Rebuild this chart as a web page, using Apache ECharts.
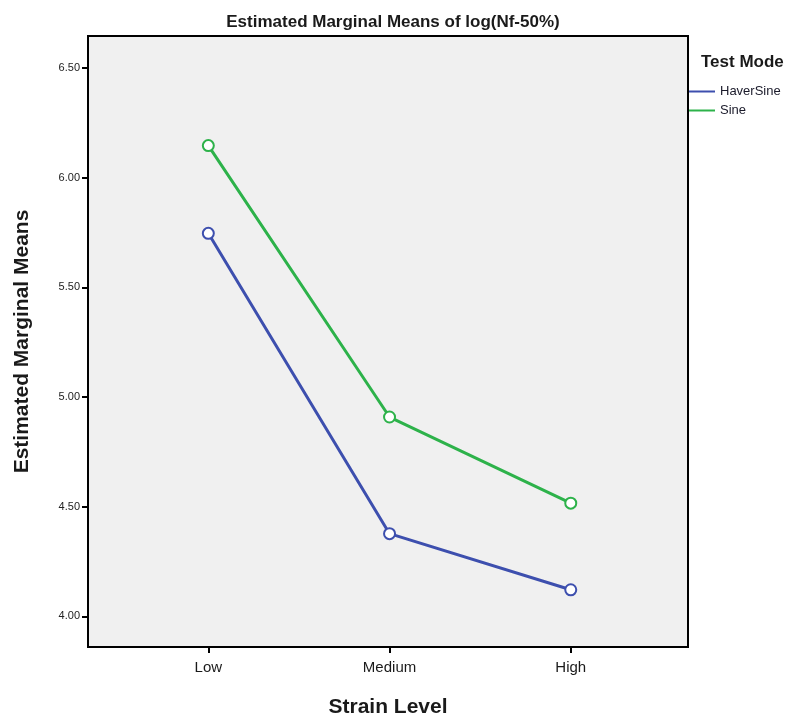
<!DOCTYPE html>
<html>
<head>
<meta charset="utf-8">
<script src="https://cdn.jsdelivr.net/npm/echarts@6/dist/echarts.min.js"></script>
<style>
  html, body { margin: 0; padding: 0; background: #fff; }
  #chart { width: 805px; height: 717px; }
</style>
</head>
<body>
<div id="chart"></div>
<script>
// Strain level categories along the x axis
const strainLevels = ['Low', 'Medium', 'High'];
// Estimated marginal means of log(Nf-50%) for each test mode
const haverSineMeans = [5.747, 4.377, 4.121];
const sineMeans = [6.147, 4.909, 4.516];
// Y axis tick values
const yTicks = [4.0, 4.5, 5.0, 5.5, 6.0, 6.5];
const xTicks = [0, 1, 2];

const chart = echarts.init(document.getElementById('chart'), null, { renderer: 'canvas' });

const font = '"Liberation Sans", Arial, sans-serif';

function toPoints(values) {
  return values.map((v, i) => [i, v]);
}

const option = {
  animation: false,
  backgroundColor: '#ffffff',
  title: [
    {
      text: 'Estimated Marginal Means of log(Nf-50%)',
      left: 388,
      top: 9,
      textAlign: 'center',
      textStyle: { fontFamily: font, fontSize: 17, fontWeight: 'bold', color: '#1a1a1a' }
    },
    {
      text: 'Test Mode',
      left: 696,
      top: 49,
      textStyle: { fontFamily: font, fontSize: 17, fontWeight: 'bold', color: '#1a1a1a' }
    }
  ],
  legend: {
    orient: 'vertical',
    left: 684,
    top: 80,
    itemWidth: 26,
    itemHeight: 2,
    itemGap: 6,
    icon: 'rect',
    itemStyle: { borderWidth: 0 },
    textStyle: { fontFamily: font, fontSize: 13, color: '#1a1a2a' },
    data: ['HaverSine', 'Sine']
  },
  grid: {
    left: 88,
    right: 117,
    top: 36,
    bottom: 70,
    outerBoundsMode: 'none',
    containLabel: false,
    show: true,
    backgroundColor: '#f0f0f0',
    borderColor: '#000',
    borderWidth: 2
  },
  xAxis: {
    type: 'value',
    min: -0.664,
    max: 2.647,
    name: 'Strain Level',
    nameLocation: 'middle',
    nameGap: 50,
    nameTextStyle: { fontFamily: font, fontSize: 21, fontWeight: 'bold', color: '#1a1a1a' },
    splitLine: { show: false },
    axisLine: { show: true, onZero: false, lineStyle: { color: '#000', width: 2 } },
    axisTick: { show: true, customValues: xTicks, length: 6, lineStyle: { color: '#000', width: 2 } },
    axisLabel: {
      customValues: xTicks,
      margin: 13,
      fontFamily: font,
      fontSize: 15,
      color: '#1a1a1a',
      formatter: v => strainLevels[Math.round(v)]
    }
  },
  yAxis: {
    type: 'value',
    min: 3.86,
    max: 6.647,
    name: 'Estimated Marginal Means',
    nameLocation: 'middle',
    nameGap: 55,
    nameTextStyle: { fontFamily: font, fontSize: 21, fontWeight: 'bold', color: '#1a1a1a' },
    splitLine: { show: false },
    axisLine: { show: true, onZero: false, lineStyle: { color: '#000', width: 2 } },
    axisTick: { show: true, customValues: yTicks, length: 6, lineStyle: { color: '#000', width: 2 } },
    axisLabel: {
      customValues: yTicks,
      margin: 8,
      fontFamily: font,
      fontSize: 11,
      color: '#222',
      formatter: v => v.toFixed(2)
    }
  },
  series: [
    {
      name: 'HaverSine',
      type: 'line',
      data: toPoints(haverSineMeans),
      symbol: 'emptyCircle',
      symbolSize: 11,
      color: '#3d4fae',
      lineStyle: { width: 3, color: '#3d4fae' },
      itemStyle: { color: '#3d4fae', borderWidth: 3, borderColor: '#3d4fae' }
    },
    {
      name: 'Sine',
      type: 'line',
      data: toPoints(sineMeans),
      symbol: 'emptyCircle',
      symbolSize: 11,
      color: '#2db24a',
      lineStyle: { width: 3, color: '#2db24a' },
      itemStyle: { color: '#2db24a', borderWidth: 3, borderColor: '#2db24a' }
    }
  ]
};

chart.setOption(option);
</script>
</body>
</html>
